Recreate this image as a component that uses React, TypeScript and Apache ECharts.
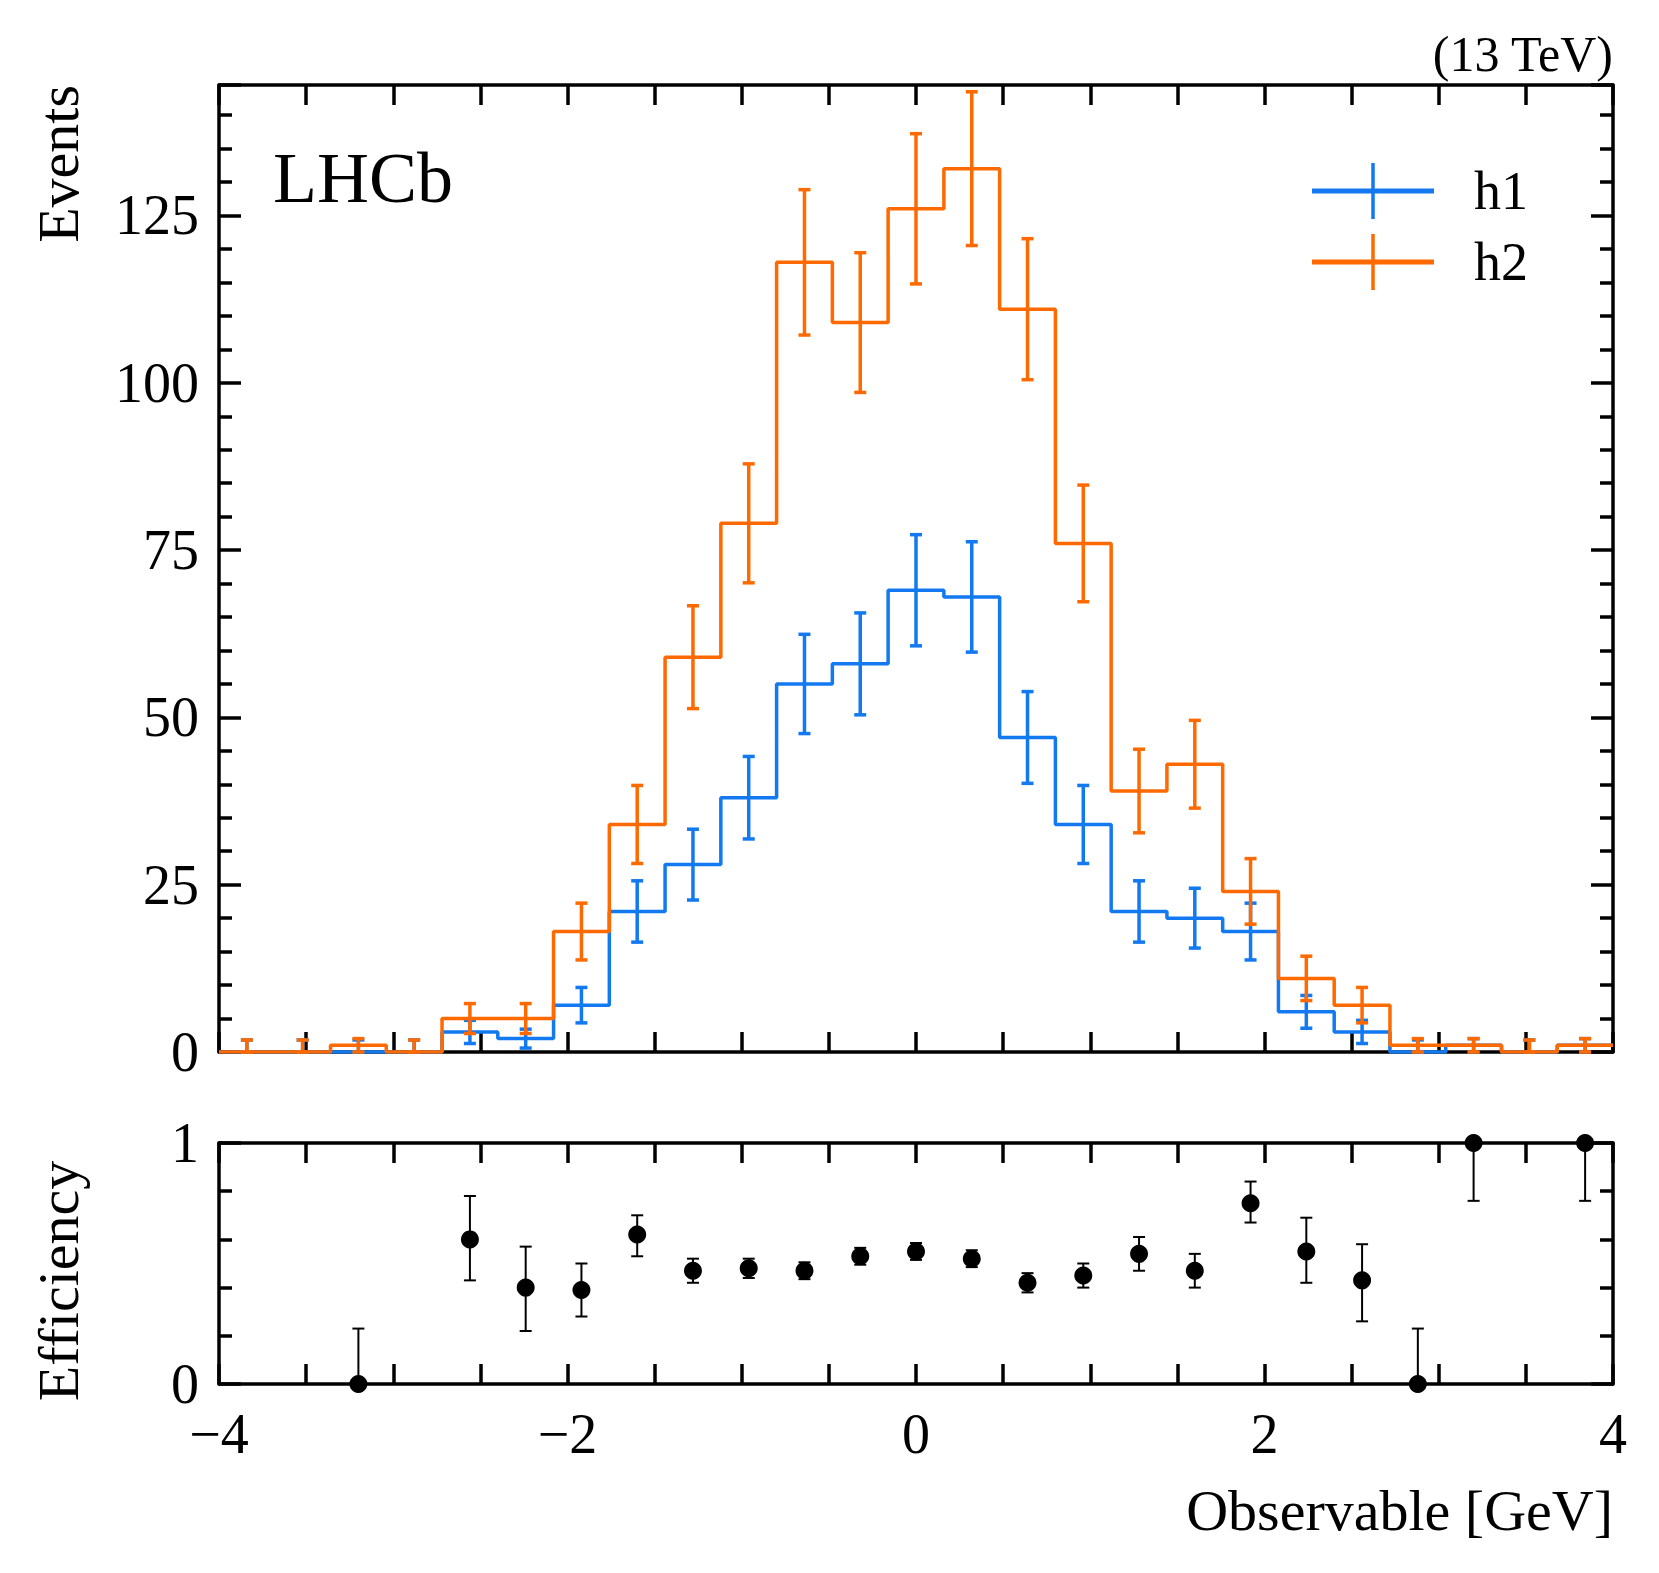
import React, { useEffect, useRef } from "react";
import * as echarts from "echarts";

const binCenters = [-3.84, -3.52, -3.2, -2.88, -2.56, -2.24, -1.92, -1.6, -1.28, -0.96, -0.64, -0.32, 0, 0.32, 0.64, 0.96, 1.28, 1.6, 1.92, 2.24, 2.56, 2.88, 3.2, 3.52, 3.84];
const h1 = [0, 0, 0, 0, 3, 2, 7, 21, 28, 38, 55, 58, 69, 68, 47, 34, 21, 20, 18, 6, 3, 0, 1, 0, 1];
const h2 = [0, 0, 1, 0, 5, 5, 18, 34, 59, 79, 118, 109, 126, 132, 111, 76, 39, 43, 24, 11, 7, 1, 1, 0, 1];
const effVal = [null, null, 0, null, 0.6, 0.4, 0.39, 0.62, 0.47, 0.48, 0.47, 0.53, 0.55, 0.52, 0.42, 0.45, 0.54, 0.47, 0.75, 0.55, 0.43, 0, 1, null, 1];
const effUp = [0, 0, 0.23, 0, 0.18, 0.17, 0.11, 0.08, 0.05, 0.04, 0.035, 0.035, 0.035, 0.035, 0.04, 0.05, 0.07, 0.07, 0.09, 0.14, 0.15, 0.23, 0, 0, 0];
const effDn = [0, 0, 0, 0, 0.17, 0.18, 0.11, 0.09, 0.05, 0.04, 0.035, 0.035, 0.035, 0.035, 0.04, 0.05, 0.07, 0.07, 0.08, 0.13, 0.17, 0, 0.24, 0, 0.24];
const binWidth = 0.32;
const xMin = -4;
const xMax = 4;

const BLUE = "#1279F0";
const ORANGE = "#FF6A00";
const FONT = "Liberation Serif";

function stepData(vals: number[]) {
  const d: number[][] = vals.map((v, i) => [binCenters[i] - binWidth / 2, v]);
  d.push([xMax, vals[vals.length - 1]]);
  return d;
}
function errData(vals: number[]) {
  return vals.map((v, i) => {
    const e = v > 0 ? Math.sqrt(v) : 1.8;
    return [binCenters[i], v > 0 ? v - e : 0, v + e];
  });
}

function errRender(color: string, width: number, cap: number) {
  return (params: any, api: any) => {
    const x = api.value(0);
    const p1 = api.coord([x, api.value(1)]);
    const p2 = api.coord([x, api.value(2)]);
    const st = { stroke: color, lineWidth: width };
    const children: any[] = [
      { type: "line", shape: { x1: p1[0], y1: p1[1], x2: p2[0], y2: p2[1] }, style: st },
    ];
    if (Math.abs(p1[1] - p2[1]) > 0.5) {
      children.push({ type: "line", shape: { x1: p1[0] - cap, y1: p1[1], x2: p1[0] + cap, y2: p1[1] }, style: st });
      children.push({ type: "line", shape: { x1: p2[0] - cap, y1: p2[1], x2: p2[0] + cap, y2: p2[1] }, style: st });
    }
    return { type: "group", children };
  };
}

export default function App() {
  const ref = useRef<HTMLDivElement>(null);
  useEffect(() => {
    document.body.style.margin = "0";
    const chart = echarts.init(ref.current!, null, { renderer: "svg" });
    const axisLine = { show: true, onZero: false, lineStyle: { color: "#000", width: 3.5 } };
    const xBase = (grid: number, pos: string, labels: boolean) => ({
      type: "value", gridIndex: grid, position: pos, min: xMin, max: xMax, interval: 2,
      axisLine, splitLine: { show: false },
      axisTick: { show: true, inside: true, length: 20, lineStyle: { color: "#000", width: 3.5 } },
      minorTick: { show: true, splitNumber: 4, length: 20, lineStyle: { color: "#000", width: 3.5 } },
      axisLabel: { show: labels, fontFamily: FONT, fontSize: 56, color: "#000", margin: 22,
        formatter: (v: number) => (v < 0 ? "\u2212" + Math.abs(v) : String(v)) },
    });
    const yBase = (grid: number, pos: string, labels: boolean, max: number, interval: number, split: number) => ({
      type: "value", gridIndex: grid, position: pos, min: 0, max, interval,
      axisLine, splitLine: { show: false },
      axisTick: { show: true, inside: true, length: 22, lineStyle: { color: "#000", width: 3.5 } },
      minorTick: { show: true, splitNumber: split, length: 13, lineStyle: { color: "#000", width: 3.5 } },
      axisLabel: { show: labels, fontFamily: FONT, fontSize: 56, color: "#000", margin: 20, showMaxLabel: max === 1 },
    });
    const effPts = binCenters.map((x, i) => [x, effVal[i]]).filter((p) => p[1] !== null);
    const effErr = binCenters
      .map((x, i) => (effVal[i] === null ? null : [x, (effVal[i] as number) - effDn[i], (effVal[i] as number) + effUp[i]]))
      .filter((p) => p !== null);
    const legendItem = (y: number, color: string, label: string) => [
      { type: "line", shape: { x1: 1312, y1: y, x2: 1434, y2: y }, style: { stroke: color, lineWidth: 5 } },
      { type: "line", shape: { x1: 1373, y1: y - 28, x2: 1373, y2: y + 28 }, style: { stroke: color, lineWidth: 3.5 } },
      { type: "text", x: 1474, y, style: { text: label, font: `54px "${FONT}"`, fill: "#000", verticalAlign: "middle" } },
    ];
    chart.setOption({
      animation: false,
      grid: [
        { left: 219, top: 85, width: 1394, height: 967 },
        { left: 219, top: 1143, width: 1394, height: 241 },
      ],
      xAxis: [xBase(0, "bottom", false), xBase(0, "top", false), xBase(1, "bottom", true), xBase(1, "top", false)],
      yAxis: [
        yBase(0, "left", true, 144.5, 25, 5), yBase(0, "right", false, 144.5, 25, 5),
        yBase(1, "left", true, 1, 1, 5), yBase(1, "right", false, 1, 1, 5),
      ],
      series: [
        { type: "line", name: "h1", step: "end", data: stepData(h1), xAxisIndex: 0, yAxisIndex: 0, showSymbol: false, symbol: "none", lineStyle: { color: BLUE, width: 3.5 }, z: 3 },
        { type: "custom", xAxisIndex: 0, yAxisIndex: 0, data: errData(h1), renderItem: errRender(BLUE, 3.5, 6), z: 3 },
        { type: "line", name: "h2", step: "end", data: stepData(h2), xAxisIndex: 0, yAxisIndex: 0, showSymbol: false, symbol: "none", lineStyle: { color: ORANGE, width: 3.5 }, z: 4 },
        { type: "custom", xAxisIndex: 0, yAxisIndex: 0, data: errData(h2), renderItem: errRender(ORANGE, 3.5, 6), z: 4 },
        { type: "custom", xAxisIndex: 2, yAxisIndex: 2, data: effErr, renderItem: errRender("#000", 2, 6), clip: false, z: 3 },
        { type: "scatter", xAxisIndex: 2, yAxisIndex: 2, data: effPts, symbol: "circle", symbolSize: 18, itemStyle: { color: "#000", opacity: 1 }, clip: false, z: 4 },
      ],
      graphic: [
        { type: "text", x: 273, y: 178, style: { text: "LHCb", font: `72px "${FONT}"`, fill: "#000", verticalAlign: "middle" } },
        { type: "text", x: 1613, y: 54, style: { text: "(13 TeV)", font: `50px "${FONT}"`, fill: "#000", align: "right", verticalAlign: "middle" } },
        { type: "text", x: 58, y: 85, rotation: Math.PI / 2, style: { text: "Events", font: `58px "${FONT}"`, fill: "#000", align: "right", verticalAlign: "middle" } },
        { type: "text", x: 58, y: 1281, rotation: Math.PI / 2, style: { text: "Efficiency", font: `58px "${FONT}"`, fill: "#000", align: "center", verticalAlign: "middle" } },
        { type: "text", x: 1613, y: 1510, style: { text: "Observable [GeV]", font: `58px "${FONT}"`, fill: "#000", align: "right", verticalAlign: "middle" } },
        ...legendItem(191, BLUE, "h1"),
        ...legendItem(262, ORANGE, "h2"),
      ],
    });
    return () => chart.dispose();
  }, []);
  return <div ref={ref} style={{ width: 1659, height: 1573 }} />;
}
